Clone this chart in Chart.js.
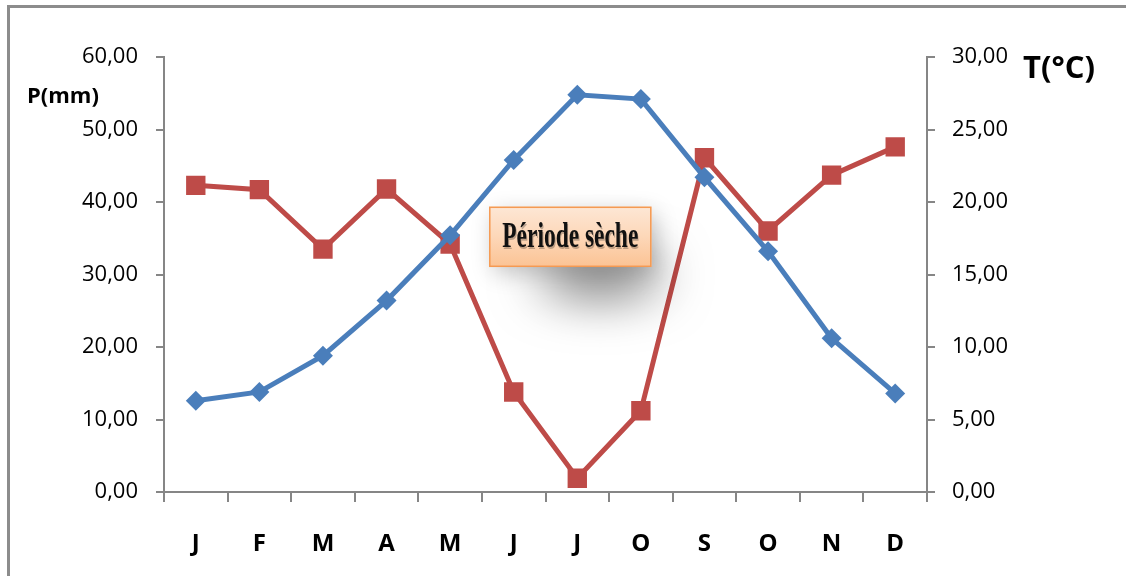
<!DOCTYPE html>
<html>
<head>
<meta charset="utf-8">
<script src="https://cdn.jsdelivr.net/npm/chart.js@4"></script>
<style>
  html, body { margin: 0; padding: 0; background: #ffffff; }
  #wrap { width: 1126px; height: 576px; }
</style>
</head>
<body>
<div id="wrap"><canvas id="c" width="1126" height="576"></canvas></div>
<script>
// Months of the year
const months = ['J', 'F', 'M', 'A', 'M', 'J', 'J', 'O', 'S', 'O', 'N', 'D'];
// Monthly precipitation, P (mm) — left axis
const precipitation = [42.3, 41.7, 33.5, 41.8, 34.2, 13.8, 1.9, 11.2, 46.1, 36.0, 43.7, 47.6];
// Monthly mean temperature, T (°C) — right axis
const temperature = [6.3, 6.9, 9.4, 13.2, 17.7, 22.9, 27.4, 27.1, 21.7, 16.6, 10.6, 6.8];
// Axis ranges and titles
const pAxis = { min: 0, max: 60, step: 10, title: 'P(mm)' };
const tAxis = { min: 0, max: 30, step: 5, title: 'T(°C)' };
const dryLabel = 'Période sèche';

const BLUE = '#4a7ebb';
const RED = '#be4b48';
const AXIS = '#868686';
const FONT = '"Open Sans", "Liberation Sans", sans-serif';

const fmt = v => Number(v).toFixed(2).replace('.', ',');

// Frame, axis titles and the dry-season callout
const decorations = {
  id: 'decorations',
  beforeDraw(chart) {
    const ctx = chart.ctx;
    ctx.save();
    ctx.fillStyle = '#ffffff';
    ctx.fillRect(0, 0, chart.width, chart.height);
    ctx.strokeStyle = '#8c8c8c';
    ctx.lineWidth = 3;
    ctx.strokeRect(8.5, 6.5, chart.width + 20, chart.height + 20);
    ctx.restore();
  },
  afterDraw(chart) {
    const ctx = chart.ctx;
    const area = chart.chartArea;
    ctx.save();
    ctx.fillStyle = '#000000';
    ctx.textBaseline = 'middle';
    ctx.textAlign = 'left';
    ctx.font = 'bold 22px ' + FONT;
    ctx.fillText(pAxis.title, 27, 97);
    ctx.font = 'bold 31px ' + FONT;
    ctx.fillText(tAxis.title, area.right + 96, area.top + 12);

    // Callout box anchored on the dry months
    const xs = chart.scales.x;
    const yp = chart.scales.yP;
    const cx = xs.getPixelForValue(6) - 7;
    const cy = yp.getPixelForValue(35.2);
    const w = 162, h = 60;
    const bx = cx - w / 2, by = cy - h / 2;

    // wide, diffuse drop shadow
    ctx.save();
    ctx.shadowColor = 'rgba(0,0,0,0.55)';
    ctx.shadowBlur = 50;
    ctx.shadowOffsetX = 2000 + 12;
    ctx.shadowOffsetY = 26;
    ctx.fillStyle = '#000';
    ctx.beginPath();
    ctx.ellipse(cx + 18 - 2000, cy + 12, 62, 22, 0, 0, Math.PI * 2);
    ctx.fill();
    ctx.restore();
    // faint halo around the box
    ctx.save();
    ctx.shadowColor = 'rgba(0,0,0,0.22)';
    ctx.shadowBlur = 22;
    ctx.shadowOffsetX = 4;
    ctx.shadowOffsetY = 6;
    ctx.fillStyle = '#fdd6b6';
    ctx.fillRect(bx, by, w, h);
    ctx.restore();

    const g = ctx.createLinearGradient(0, by, 0, by + h);
    g.addColorStop(0, '#fde7d5');
    g.addColorStop(0.5, '#fdd7b8');
    g.addColorStop(1, '#fbc394');
    ctx.fillStyle = g;
    ctx.fillRect(bx, by, w, h);
    ctx.strokeStyle = '#f59a52';
    ctx.lineWidth = 1.5;
    ctx.strokeRect(bx + 0.5, by + 0.5, w - 1, h - 1);

    ctx.font = 'bold 36px "Liberation Serif", "Times New Roman", serif';
    const tw = ctx.measureText(dryLabel).width;
    const sx = 136 / tw;
    ctx.translate(cx, cy + 1);
    ctx.scale(sx, 1);
    ctx.textAlign = 'center';
    ctx.fillStyle = 'rgba(0,0,0,0.25)';
    ctx.fillText(dryLabel, 1.5, 1.5);
    ctx.fillStyle = '#111111';
    ctx.fillText(dryLabel, 0, 0);
    ctx.restore();
  }
};

new Chart(document.getElementById('c'), {
  type: 'line',
  data: {
    labels: months,
    datasets: [
      {
        label: 'T(°C)',
        data: temperature,
        yAxisID: 'yT',
        borderColor: BLUE,
        backgroundColor: BLUE,
        borderWidth: 5,
        pointStyle: 'rectRot',
        pointRadius: 10,
        pointHoverRadius: 10,
        pointBorderWidth: 0,
        tension: 0,
        order: 1
      },
      {
        label: 'P(mm)',
        data: precipitation,
        yAxisID: 'yP',
        borderColor: RED,
        backgroundColor: RED,
        borderWidth: 5,
        pointStyle: 'rect',
        pointRadius: 13.7,
        pointHoverRadius: 13.7,
        pointBorderWidth: 0,
        tension: 0,
        order: 2
      }
    ]
  },
  options: {
    responsive: false,
    devicePixelRatio: 1,
    animation: false,
    layout: { padding: { top: 57, left: 0, right: 0, bottom: 0 } },
    plugins: {
      legend: { display: false },
      tooltip: { enabled: false },
      title: { display: false }
    },
    scales: {
      x: {
        type: 'category',
        offset: true,
        grid: {
          offset: true,
          drawOnChartArea: false,
          drawTicks: true,
          tickLength: 10,
          color: AXIS,
          lineWidth: 2
        },
        border: { display: true, color: AXIS, width: 2 },
        ticks: {
          color: '#000000',
          font: { family: FONT, size: 24, weight: 'bold' },
          padding: 28,
          maxRotation: 0,
          autoSkip: false
        },
        afterFit(s) { s.height = 84; }
      },
      yP: {
        type: 'linear',
        position: 'left',
        min: pAxis.min,
        max: pAxis.max,
        ticks: {
          stepSize: pAxis.step,
          color: '#000000',
          font: { family: FONT, size: 22 },
          padding: 18,
          callback: fmt
        },
        grid: {
          drawOnChartArea: false,
          drawTicks: true,
          tickLength: 8,
          color: AXIS,
          lineWidth: 2
        },
        border: { display: true, color: AXIS, width: 2 },
        afterFit(s) { s.width = 164; }
      },
      yT: {
        type: 'linear',
        position: 'right',
        min: tAxis.min,
        max: tAxis.max,
        ticks: {
          stepSize: tAxis.step,
          color: '#000000',
          font: { family: FONT, size: 22 },
          padding: 17,
          callback: fmt
        },
        grid: {
          drawOnChartArea: false,
          drawTicks: true,
          tickLength: 8,
          color: AXIS,
          lineWidth: 2
        },
        border: { display: true, color: AXIS, width: 2 },
        afterFit(s) { s.width = 199; }
      }
    }
  },
  plugins: [decorations]
});
</script>
</body>
</html>
